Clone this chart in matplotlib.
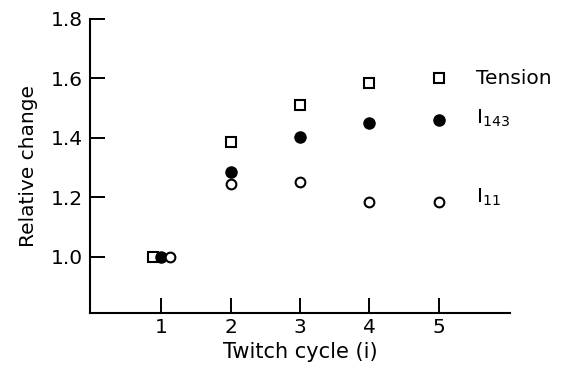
import matplotlib
matplotlib.use("Agg")
import matplotlib.pyplot as plt
import numpy as np

cycles = [1, 2, 3, 4, 5]
tension = [1.0, 1.387, 1.511, 1.585, 1.60]
i143 = [1.0, 1.286, 1.403, 1.45, 1.46]
i11 = [1.0, 1.245, 1.252, 1.185, 1.185]
labels = ["Tension", r"$\mathregular{I_{143}}$", r"$\mathregular{I_{11}}$"]
y_ticks = [1.0, 1.2, 1.4, 1.6, 1.8]

plt.rcParams["font.family"] = ["DejaVu Sans"]

fig = plt.figure(figsize=(5.62, 3.70), dpi=100)
ax = fig.add_axes([0.160, 0.153, 0.748, 0.796])

# at cycle 1 the three overlapping markers sit side by side
x = np.array(cycles, dtype=float)
xt = x.copy(); xt[0] -= 0.12
xb = x.copy(); xb[0] += 0.12

ax.plot(xt, tension, ls="none", marker="s", ms=7.5, mfc="white", mec="black", mew=1.5)
ax.plot(x, i143, ls="none", marker="o", ms=8, mfc="black", mec="black")
ax.plot(xb, i11, ls="none", marker="o", ms=7, mfc="white", mec="black", mew=1.5)

# series labels next to the last points
nudge = [0, 1, 3]
for vals, lab, dy in zip([tension, i143, i11], labels, nudge):
    ax.annotate(lab, (cycles[-1], vals[-1]), xytext=(27, dy), textcoords="offset points",
                va="center", ha="left", fontsize=14.5)

ax.set_xlim(-0.03, 6.03)
ax.set_ylim(0.81, 1.8)
ax.set_xticks(cycles)
ax.set_yticks(y_ticks)
ax.set_yticklabels([f"{v:.1f}" for v in y_ticks])
ax.tick_params(direction="in", length=11, width=1.4, labelsize=14.5, pad=5)
ax.tick_params(axis="x", pad=3)

for side in ["top", "right"]:
    ax.spines[side].set_visible(False)
for side in ["left", "bottom"]:
    ax.spines[side].set_linewidth(1.5)

ax.set_xlabel("Twitch cycle (i)", fontsize=15, labelpad=4)
ax.set_ylabel("Relative change", fontsize=14.5, labelpad=9)

fig.savefig("out.png", dpi=100)
plt.close(fig)
